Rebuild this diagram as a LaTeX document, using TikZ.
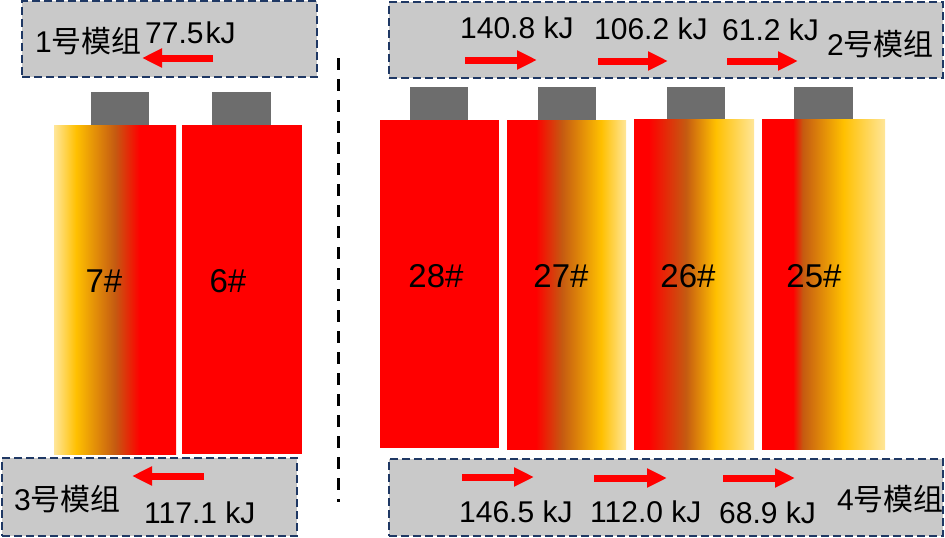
\documentclass[tikz,border=0pt]{standalone}
\usepackage{fontspec}
\setmainfont{Liberation Sans}
\newfontfamily\cjk{Noto Sans CJK SC}
\usetikzlibrary{arrows.meta}
\definecolor{boxgray}{HTML}{C9C9C9}
\definecolor{boxline}{HTML}{1F3864}
\definecolor{capgray}{HTML}{6D6D6D}
\definecolor{pale}{HTML}{FFE699}
\definecolor{gold}{HTML}{FFC000}
\definecolor{brn}{HTML}{C55A11}
\definecolor{hot}{HTML}{FF0000}
\pgfdeclarehorizontalshading{sseven}{100bp}{color(0bp)=(pale); color(25bp)=(pale); color(34bp)=(gold); color(50bp)=(brn); color(60bp)=(hot); color(100bp)=(hot)}
\pgfdeclarehorizontalshading{stwoseven}{100bp}{color(0bp)=(hot); color(37bp)=(hot); color(48bp)=(brn); color(64.5bp)=(gold); color(75bp)=(pale); color(100bp)=(pale)}
\pgfdeclarehorizontalshading{stwosix}{100bp}{color(0bp)=(hot); color(31bp)=(hot); color(46.5bp)=(brn); color(59bp)=(gold); color(75bp)=(pale); color(100bp)=(pale)}
\pgfdeclarehorizontalshading{stwofive}{100bp}{color(0bp)=(hot); color(37.5bp)=(hot); color(41.5bp)=(brn); color(58bp)=(gold); color(75bp)=(pale); color(100bp)=(pale)}
\tikzset{
  modbox/.style={draw=boxline, fill=boxgray, line width=2pt, dash pattern=on 8pt off 4pt, inner sep=0pt},
  capbox/.style={fill=capgray, inner sep=0pt, anchor=north west},
  cellbox/.style={inner sep=0pt, anchor=north west},
  val/.style={inner sep=0pt, anchor=base west, font=\fontsize{30}{34}\selectfont},
  modlab/.style={inner sep=0pt, anchor=base west, font=\fontsize{30}{34}\selectfont},
  cellnum/.style={inner sep=0pt, anchor=base, font=\fontsize{33}{37}\selectfont},
  flow/.style={draw=hot, line width=7pt, -{Triangle[length=20pt,width=18pt]}},
  vline/.style={draw=black, line width=3pt, dash pattern=on 12pt off 9pt}
}
\begin{document}
\begin{tikzpicture}[x=1pt, y=-1pt]
\useasboundingbox (0,0) rectangle (945,538);
% module boxes
\node[modbox, minimum width=295pt, minimum height=76pt] (m1) at (169.5,39) {};
\node[modbox, minimum width=554pt, minimum height=76pt] (m2) at (666,40) {};
\node[modbox, minimum width=295pt, minimum height=78pt] (m3) at (149.5,497) {};
\node[modbox, minimum width=554pt, minimum height=77pt] (m4) at (666,497.5) {};
% separator
\coordinate (vtop) at (338,58);
\coordinate (vbot) at (338,502);
\draw[vline] (vtop) -- (vbot);
% caps
\node[capbox, minimum width=58pt, minimum height=33pt] (k7) at (91,92) {};
\node[capbox, minimum width=59pt, minimum height=33pt] (k6) at (212,92) {};
\node[capbox, minimum width=58pt, minimum height=33pt] (k28) at (410,87) {};
\node[capbox, minimum width=58pt, minimum height=33pt] (k27) at (538,87) {};
\node[capbox, minimum width=58pt, minimum height=33pt] (k26) at (667,87) {};
\node[capbox, minimum width=59pt, minimum height=33pt] (k25) at (794,87) {};
% cells
\node[cellbox, shade, shading=sseven, minimum width=122pt, minimum height=329pt] (c7) at (54,125) {};
\node[cellbox, fill=hot, minimum width=120pt, minimum height=329pt] (c6) at (182,125) {};
\node[cellbox, fill=hot, minimum width=119pt, minimum height=328pt] (c28) at (380,120) {};
\node[cellbox, shade, shading=stwoseven, minimum width=119pt, minimum height=329pt] (c27) at (507,120) {};
\node[cellbox, shade, shading=stwosix, minimum width=120pt, minimum height=330pt] (c26) at (634,119) {};
\node[cellbox, shade, shading=stwofive, minimum width=123pt, minimum height=330pt] (c25) at (762,119) {};
% cell labels
\node[cellnum] (l7) at (104,292) {7\#};
\node[cellnum] (l6) at (228,292) {6\#};
\node[cellnum] (l28) at (436,287) {28\#};
\node[cellnum] (l27) at (561,287) {27\#};
\node[cellnum] (l26) at (688,287) {26\#};
\node[cellnum] (l25) at (814,287) {25\#};
% module labels and values
\node[modlab] (n1) at (35,52) {1{\cjk 号模组}};
\node[val] (v1) at (145,43) {77.5\hspace{2pt}kJ};
\node[val] (v2a) at (460,38) {140.8 kJ};
\node[val] (v2b) at (594,39) {106.2 kJ};
\node[val] (v2c) at (722,40) {61.2 kJ};
\node[modlab] (n2) at (827,55) {2{\cjk 号模组}};
\node[modlab] (n3) at (14,510) {3{\cjk 号模组}};
\node[val] (v3) at (144,523) {117.1 kJ};
\node[val] (v4a) at (459,522) {146.5 kJ};
\node[val] (v4b) at (590,522) {112.0 kJ};
\node[val] (v4c) at (719,523) {68.9 kJ};
\node[modlab] (n4) at (837,510) {4{\cjk 号模组}};
% arrows
\coordinate (a1s) at (213,58); \coordinate (a1e) at (142,58);
\coordinate (a2s) at (465,60); \coordinate (a2e) at (537,60);
\coordinate (a3s) at (598,61); \coordinate (a3e) at (668,61);
\coordinate (a4s) at (727,61); \coordinate (a4e) at (798,61);
\coordinate (a5s) at (204,476); \coordinate (a5e) at (132,476);
\coordinate (a6s) at (462,477); \coordinate (a6e) at (534,477);
\coordinate (a7s) at (594,478); \coordinate (a7e) at (667,478);
\coordinate (a8s) at (723,478); \coordinate (a8e) at (795,478);
\draw[flow] (a1s) -- (a1e);
\draw[flow] (a2s) -- (a2e);
\draw[flow] (a3s) -- (a3e);
\draw[flow] (a4s) -- (a4e);
\draw[flow] (a5s) -- (a5e);
\draw[flow] (a6s) -- (a6e);
\draw[flow] (a7s) -- (a7e);
\draw[flow] (a8s) -- (a8e);
\end{tikzpicture}
\end{document}
